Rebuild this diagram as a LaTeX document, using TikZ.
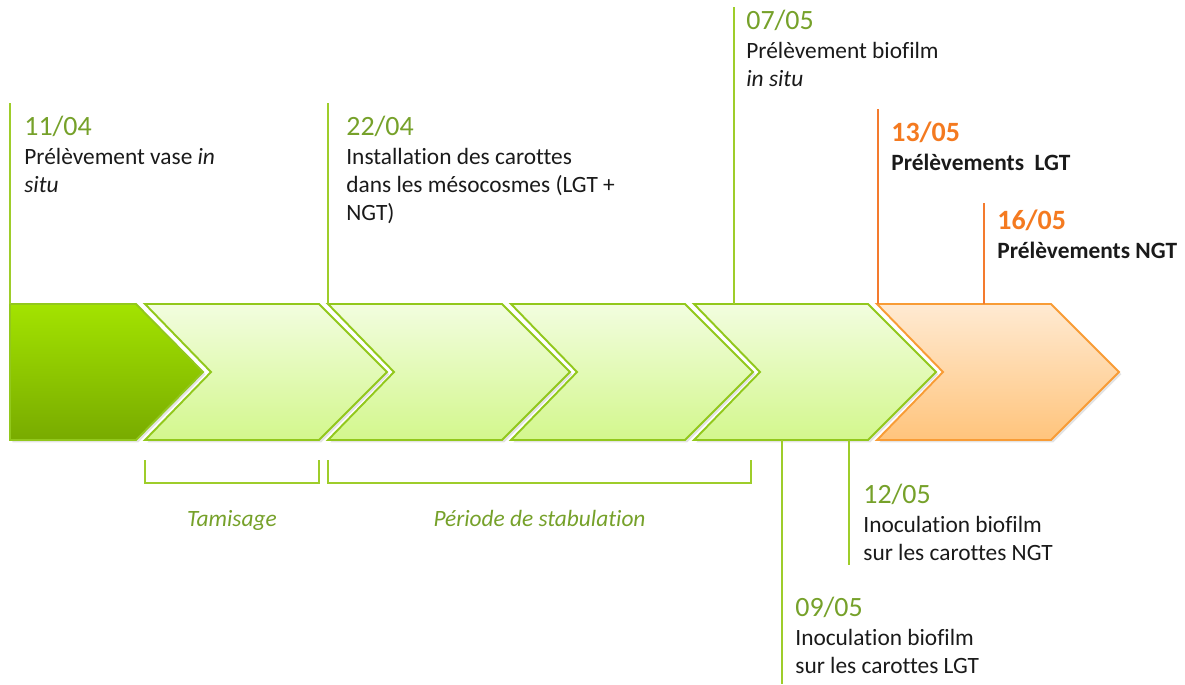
\documentclass[tikz,border=0pt]{standalone}
\usepackage{fontspec}
\setmainfont{Carlito}[Ligatures=NoCommon]
\usetikzlibrary{positioning, calc, shadows}
\definecolor{LimeTop}{HTML}{A3E300}
\definecolor{LimeBot}{HTML}{78AB00}
\definecolor{PaleTop}{HTML}{F2FDDF}
\definecolor{PaleBot}{HTML}{D3F78D}
\definecolor{LimeEdge}{HTML}{92C81C}
\definecolor{PeachTop}{HTML}{FFEAD2}
\definecolor{PeachBot}{HTML}{FFC47C}
\definecolor{PeachEdge}{HTML}{F89C36}
\definecolor{LeafText}{HTML}{76A12A}
\definecolor{LeafLine}{HTML}{9ECD2A}
\definecolor{RustText}{HTML}{F47A20}
\definecolor{RustLine}{HTML}{F47B2E}
\definecolor{InkText}{HTML}{1A1A1A}

\newcommand{\dategreen}[1]{{\fontsize{15.9}{15.7}\selectfont\color{LeafText}#1}}
\newcommand{\dateorange}[1]{{\fontsize{15.9}{15.7}\selectfont\bfseries\color{RustText}#1}}

\begin{document}
\begin{tikzpicture}[
    x=0.02cm, y=-0.02cm,
    font=\fontsize{13.3}{15.7}\selectfont,
    chevron/.style={line width=1.1pt, line join=miter,
        drop shadow={opacity=0.22, shadow xshift=1.3pt, shadow yshift=-1.3pt}},
    chevdark/.style={chevron, draw=LimeEdge, top color=LimeTop, bottom color=LimeBot},
    chevpale/.style={chevron, draw=LimeEdge, top color=PaleTop, bottom color=PaleBot},
    chevpeach/.style={chevron, draw=PeachEdge, top color=PeachTop, bottom color=PeachBot},
    leafline/.style={draw=LeafLine, line width=1.1pt},
    rustline/.style={draw=RustLine, line width=1.1pt},
    % ancre : ligne de base de la derniere ligne
    milestone/.style={anchor=base west, align=left, inner sep=0pt, text=InkText},
    phase/.style={anchor=base, inner sep=0pt, text=LeafText, font=\fontsize{13.3}{15.7}\selectfont\itshape},
]
\useasboundingbox (0,0) rectangle (1185,684);

% frise : premier chevron plein
\path[chevdark] (10,304) -- (136,304) -- (203,372) -- (136,440) -- (10,440) -- cycle;
\coordinate (ch1n) at (10,304);

% chevrons clairs
\foreach \x [count=\i from 2] in {145,328,511,694}{
    \path[chevpale] (\x,304) -- (\x+174,304) -- (\x+242,372) -- (\x+174,440)
        -- (\x,440) -- (\x+66,372) -- cycle;
    \coordinate (ch\i n) at (\x,304);
    \coordinate (ch\i s) at (\x,440);
}

% dernier chevron (prélèvements)
\path[chevpeach] (877,304) -- (1051,304) -- (1119,372) -- (1051,440)
    -- (877,440) -- (943,372) -- cycle;
\coordinate (ch6n) at (877,304);

% jalons au-dessus
\coordinate (l1) at (10,103);
\coordinate (l2) at (328,103);
\coordinate (l3) at (734,7);
\coordinate (l4) at (878,109);
\coordinate (l5) at (984,203);
\node[milestone] (j1) at (24,192) {\dategreen{11/04}\\[0.8pt]Prélèvement vase \textit{in}\\\textit{situ}};
\node[milestone] (j2) at (346,220) {\dategreen{22/04}\\[0.8pt]Installation des carottes\\dans les mésocosmes (LGT +\\NGT)};
\node[milestone] (j3) at (746,86) {\dategreen{07/05}\\[0.8pt]Prélèvement biofilm\\\textit{in situ}};
\node[milestone, font=\fontsize{13.3}{15.7}\selectfont\bfseries] (j4) at (891,170) {\dateorange{13/05}\\[0.8pt]Prélèvements~ LGT};
\node[milestone, font=\fontsize{13.3}{15.7}\selectfont\bfseries] (j5) at (997,258) {\dateorange{16/05}\\[0.8pt]Prélèvements NGT};
\draw[leafline] (l1) -- (l1 |- ch1n);
\draw[leafline] (l2) -- (l2 |- ch3n);
\draw[leafline] (l3) -- (l3 |- ch5n);
\draw[rustline] (l4) -- (l4 |- ch6n);
\draw[rustline] (l5) -- (l5 |- ch6n);

% jalons en dessous
\coordinate (l6) at (849,565);
\coordinate (l7) at (782,684);
\node[milestone] (j6) at (863,560) {\dategreen{12/05}\\[0.8pt]Inoculation biofilm\\sur les carottes NGT};
\node[milestone] (j7) at (795,673) {\dategreen{09/05}\\[0.8pt]Inoculation biofilm\\sur les carottes LGT};
\draw[leafline] (l6 |- ch5s) -- (l6);
\draw[leafline] (l7 |- ch5s) -- (l7);

% accolades des phases
\foreach \xa/\xb/\lbl [count=\i] in {145/319/Tamisage, 328/751/Période de stabulation}{
    \draw[leafline] (\xa,460) -- (\xa,483) -- (\xb,483) -- (\xb,460);
    \node[phase] (p\i) at ({(\xa+\xb)/2},526) {\lbl};
}
\end{tikzpicture}
\end{document}
